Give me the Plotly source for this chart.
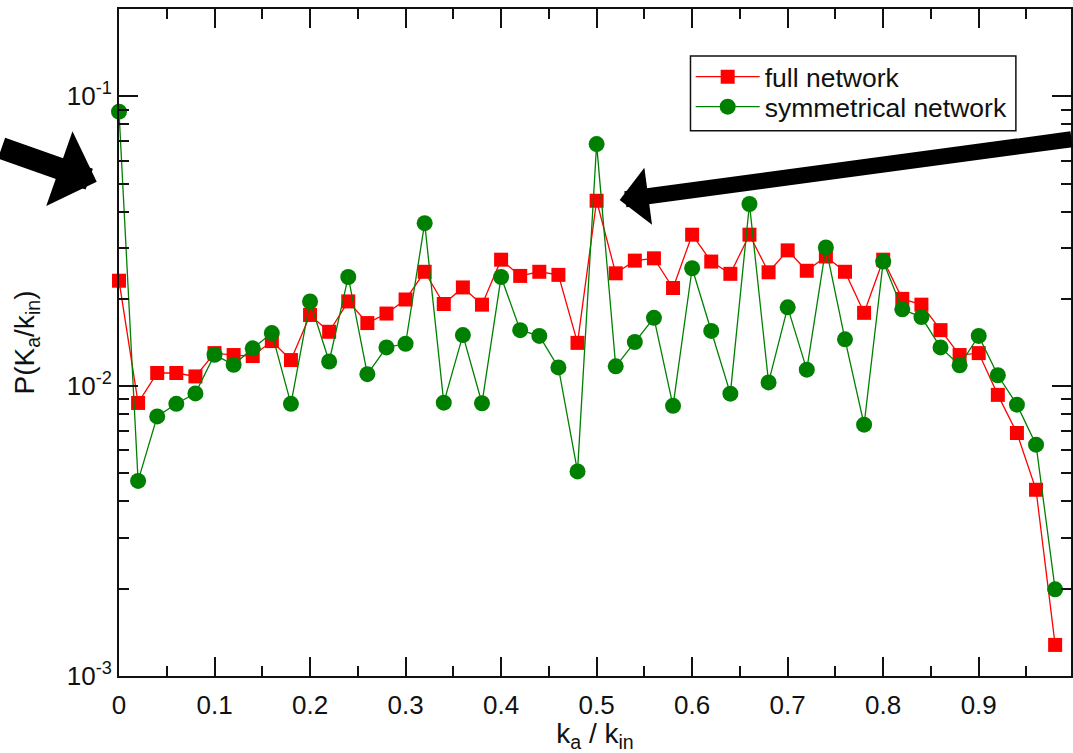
import plotly.graph_objects as go

# ---- data ----
ratio = [0.00, 0.02, 0.04, 0.06, 0.08, 0.10, 0.12, 0.14, 0.16, 0.18,
         0.20, 0.22, 0.24, 0.26, 0.28, 0.30, 0.32, 0.34, 0.36, 0.38,
         0.40, 0.42, 0.44, 0.46, 0.48, 0.50, 0.52, 0.54, 0.56, 0.58,
         0.60, 0.62, 0.64, 0.66, 0.68, 0.70, 0.72, 0.74, 0.76, 0.78,
         0.80, 0.82, 0.84, 0.86, 0.88, 0.90, 0.92, 0.94, 0.96, 0.98]

full_network = [0.0231, 0.00875, 0.0111, 0.0111, 0.0108, 0.0130, 0.0128, 0.0127, 0.0143, 0.0123,
                0.0176, 0.0154, 0.0196, 0.0165, 0.0178, 0.0199, 0.0248, 0.0192, 0.0219, 0.0191,
                0.0273, 0.0240, 0.0248, 0.0242, 0.0141, 0.0436, 0.0245, 0.0271, 0.0276, 0.0218,
                0.0333, 0.0269, 0.0244, 0.0333, 0.0247, 0.0294, 0.0250, 0.0280, 0.0248, 0.0179,
                0.0273, 0.0200, 0.0191, 0.0156, 0.0128, 0.0130, 0.00933, 0.00689, 0.00439, 0.00128]

symmetrical_network = [0.0885, 0.00471, 0.00786, 0.00869, 0.00944, 0.01283, 0.01184, 0.0135, 0.01524, 0.00869,
                       0.01959, 0.01216, 0.0238, 0.0110, 0.0136, 0.0140, 0.0365, 0.00877, 0.0150, 0.00873,
                       0.0238, 0.0156, 0.0149, 0.0116, 0.00508, 0.0684, 0.0117, 0.0142, 0.0172, 0.00855,
                       0.0255, 0.0155, 0.00942, 0.0425, 0.0103, 0.0187, 0.0114, 0.0301, 0.0145, 0.00736,
                       0.0269, 0.0184, 0.0173, 0.0136, 0.0118, 0.0149, 0.0109, 0.00863, 0.00628, 0.00199]

y_major_vals = [0.001, 0.01, 0.1]
y_major_text = ["10<sup>-3</sup>", "10<sup>-2</sup>", "10<sup>-1</sup>"]
y_minor_vals = [0.002, 0.003, 0.004, 0.005, 0.006, 0.007, 0.008, 0.009,
                0.02, 0.03, 0.04, 0.05, 0.06, 0.07, 0.08, 0.09, 0.2]

FONT = "Liberation Sans, Arial, Helvetica, sans-serif"
INK = "#111111"

fig = go.Figure()
fig.add_trace(go.Scatter(
    x=ratio, y=full_network, name="full network", mode="lines+markers",
    line=dict(color="#ff0000", width=1.3),
    marker=dict(symbol="square", size=14, color="#ff0000"),
    cliponaxis=False, legend="legend",
))
fig.add_trace(go.Scatter(
    x=ratio, y=symmetrical_network, name="symmetrical network", mode="lines+markers",
    line=dict(color="#008000", width=1.3),
    marker=dict(symbol="circle", size=16, color="#008000"),
    cliponaxis=False, legend="legend2",
))

axis_common = dict(
    showline=True, linecolor=INK, linewidth=2, mirror="allticks",
    ticks="inside", ticklen=19, tickwidth=2, tickcolor=INK,
    showgrid=False, zeroline=False,
    tickfont=dict(family=FONT, size=26, color=INK),
)

legend_common = dict(
    xanchor="left", yanchor="middle", x=0.6005,
    borderwidth=0, bgcolor="rgba(0,0,0,0)",
    font=dict(family=FONT, size=26.5, color=INK),
    itemwidth=64,
)

fig.update_layout(
    width=1073, height=753,
    margin=dict(l=119, r=0, t=9, b=77),
    paper_bgcolor="white", plot_bgcolor="white",
    font=dict(family=FONT, color=INK),
    xaxis=dict(
        range=[0, 0.9966], dtick=0.1, tick0=0,
        minor=dict(dtick=0.05, ticks="inside", ticklen=10, tickwidth=2, tickcolor=INK),
        title=dict(text="k<sub>a</sub> / k<sub>in</sub>", font=dict(family=FONT, size=28, color=INK), standoff=0),
        ticklabelstandoff=5,
        **axis_common,
    ),
    yaxis=dict(
        type="log", range=[-3, -0.699],
        tickvals=y_major_vals, ticktext=y_major_text,
        minor=dict(tickvals=y_minor_vals, ticks="inside", ticklen=10, tickwidth=2, tickcolor=INK),
        title=dict(text="P(K<sub>a</sub>/k<sub>in</sub>)", font=dict(family=FONT, size=28, color=INK), standoff=24),
        **axis_common,
    ),
    legend=dict(y=0.8981, **legend_common),
    legend2=dict(y=0.8531, **legend_common),
    showlegend=True,
)

# legend frame
fig.add_shape(type="rect", xref="paper", yref="paper",
              x0=0.6003, x1=0.9421, y0=0.8175, y1=0.9295,
              line=dict(color=INK, width=1.5), fillcolor="rgba(0,0,0,0)", layer="below")

# big black arrows pointing at the peaks
fig.add_annotation(
    xref="paper", yref="paper", x=-0.0234, y=0.7411, text="",
    showarrow=True, axref="pixel", ayref="pixel", ax=-107, ay=-34,
    arrowhead=1, arrowsize=0.6, arrowwidth=22, arrowcolor="black", standoff=0,
)
fig.add_annotation(
    xref="paper", yref="paper", x=0.5259, y=0.7136, text="",
    showarrow=True, axref="pixel", ayref="pixel", ax=460, ay=-61,
    arrowhead=1, arrowsize=0.6, arrowwidth=16, arrowcolor="black", standoff=0,
)

fig.write_html(
    "out.html",
    config={"displayModeBar": False},
    post_script="document.body.style.margin='0px';document.body.style.overflow='hidden';",
)
